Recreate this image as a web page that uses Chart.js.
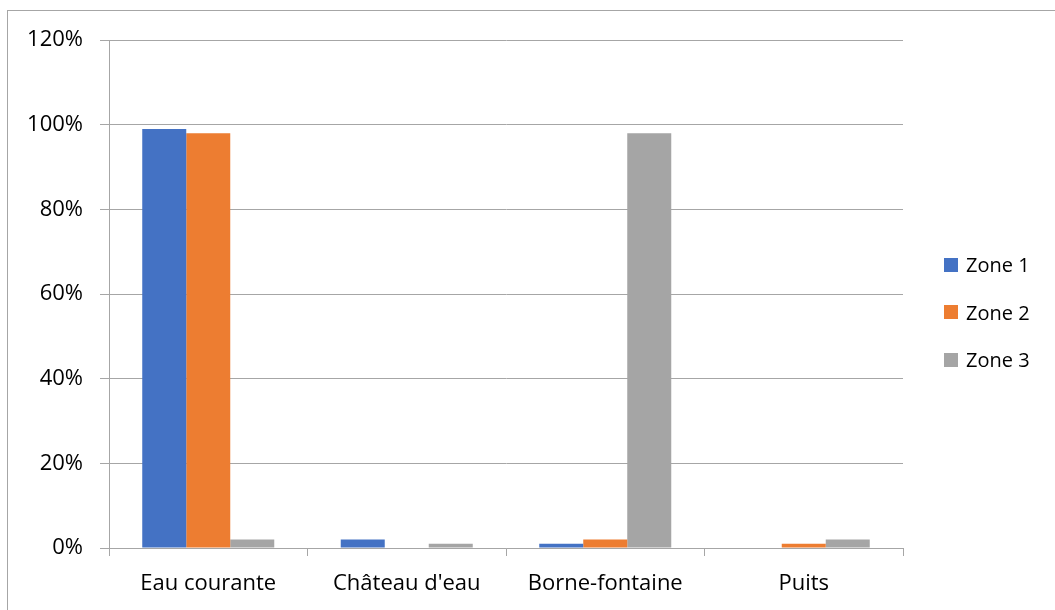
<!DOCTYPE html>
<html>
<head>
<meta charset="utf-8">
<script src="https://cdn.jsdelivr.net/npm/chart.js@4"></script>
<style>
  body { margin: 0; background: #fff; overflow: hidden; }
  #frame { position: absolute; left: 7px; top: 10px; width: 1100px; height: 700px; border: 1px solid #a6a6a6; }
  #wrap { position: absolute; left: 0; top: 0; width: 1055px; height: 610px; }
  #legend { position: absolute; left: 944px; top: 241px; font-family: "Open Sans", sans-serif; font-size: 20px; color: #000; }
  #legend div { height: 47.5px; display: flex; align-items: center; }
  #legend span.box { display: inline-block; width: 14px; height: 14px; margin-right: 8px; }
</style>
</head>
<body>
<div id="frame"></div>
<div id="wrap"><canvas id="chart" width="1055" height="610"></canvas></div>
<div id="legend"></div>
<script>
const categories = ['Eau courante', "Château d'eau", 'Borne-fontaine', 'Puits'];
const zone1 = [99, 2, 1, 0];
const zone2 = [98, 0, 2, 1];
const zone3 = [2, 1, 98, 2];
const seriesNames = ['Zone 1', 'Zone 2', 'Zone 3'];
const seriesColors = ['#4472C4', '#ED7D31', '#A5A5A5'];

const font = { family: '"Open Sans", sans-serif', size: 22 };
const lineColor = '#a6a6a6';

const datasets = [zone1, zone2, zone3].map((vals, i) => ({
    label: seriesNames[i],
    data: vals,
    backgroundColor: seriesColors[i],
    borderWidth: 0,
    categoryPercentage: 0.665,
    barPercentage: 1
}));

// légende à droite, en HTML
const legend = document.getElementById('legend');
datasets.forEach(ds => {
    const row = document.createElement('div');
    row.innerHTML = '<span class="box" style="background:' + ds.backgroundColor + '"></span>' + ds.label;
    legend.appendChild(row);
});

new Chart(document.getElementById('chart'), {
    type: 'bar',
    data: { labels: categories, datasets: datasets },
    options: {
        responsive: false,
        animation: false,
        layout: { padding: { left: 0, top: 40, right: 152, bottom: 0 } },
        plugins: {
            legend: { display: false },
            tooltip: { enabled: false }
        },
        scales: {
            x: {
                afterFit: scale => { scale.height = 62; },
                grid: { drawOnChartArea: false, drawTicks: true, tickLength: 8, color: lineColor, offset: true },
                border: { color: lineColor },
                ticks: { color: '#000', font: font, padding: 15, maxRotation: 0 }
            },
            y: {
                min: 0,
                max: 120,
                afterFit: scale => { scale.width = 109; },
                grid: { color: lineColor, tickLength: 9 },
                border: { color: lineColor },
                ticks: { stepSize: 20, color: '#000', font: font, padding: 17, callback: v => v + '%' }
            }
        }
    }
});
</script>
</body>
</html>
